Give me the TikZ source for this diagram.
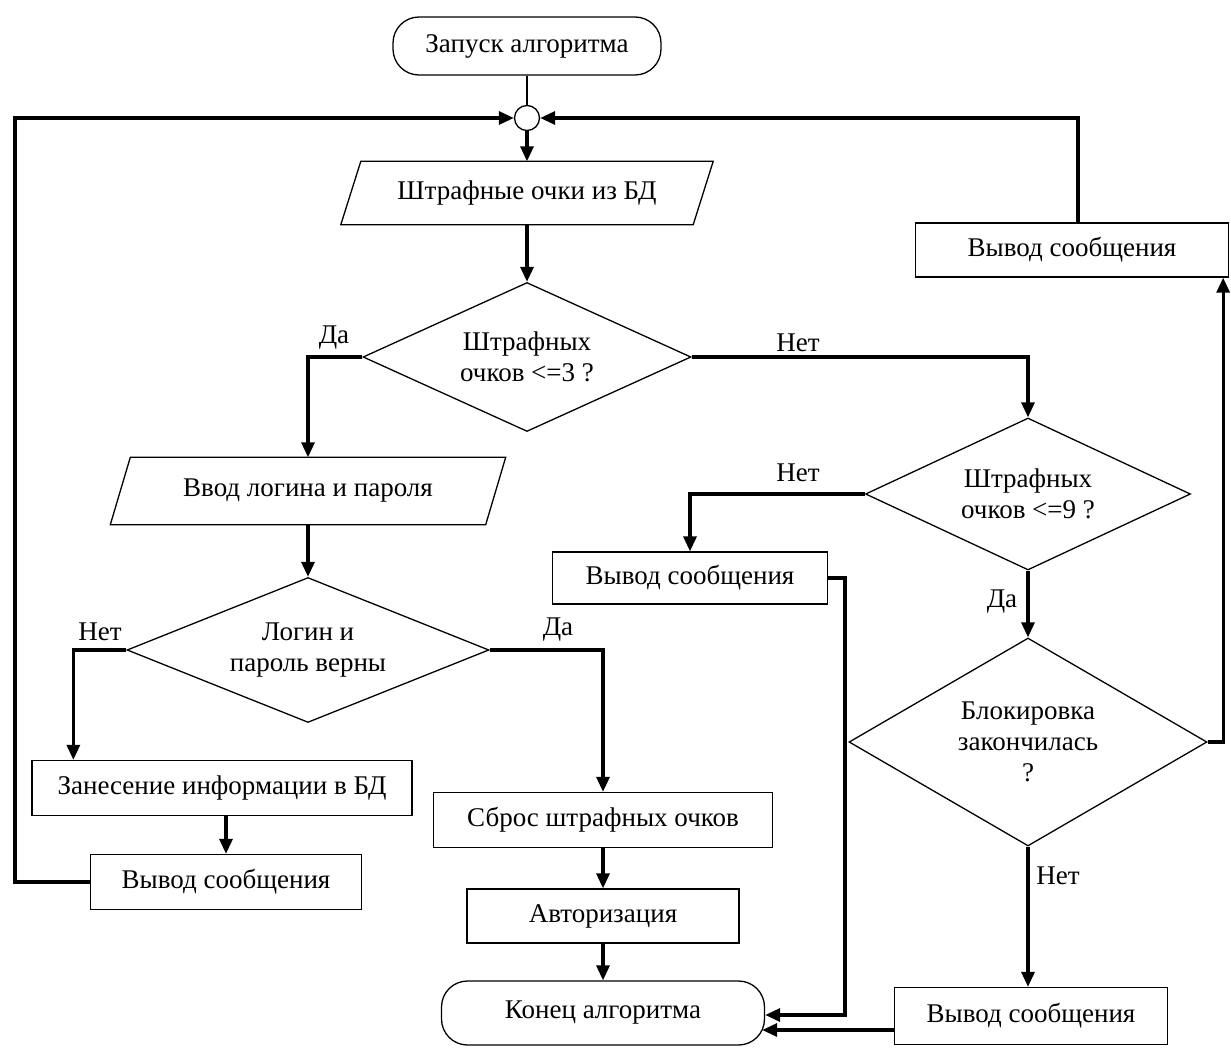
\documentclass[tikz,border=0pt]{standalone}
\usepackage{fontspec}
\setmainfont{Liberation Serif}
\usetikzlibrary{shapes.geometric,arrows.meta,calc}
\begin{document}
\begin{tikzpicture}[x=1pt,y=-1pt,
  font=\fontsize{27}{31}\selectfont,
  outl/.style={draw, line width=1.3pt},
  boxn/.style={outl, rectangle, inner sep=0pt, align=center},
  term/.style={outl, rectangle, rounded corners=26pt, inner sep=0pt},
  dec/.style={outl, diamond, inner sep=0pt, shape aspect=2, align=center},
  io/.style={rectangle, inner sep=0pt, align=center},
  conn/.style={line width=3.2pt, -{Triangle[length=15pt,width=13pt]}},
  thinl/.style={line width=1.3pt},
  lbl/.style={inner sep=0pt}]
\fill[white] (0,0) rectangle (1231,1048);
\useasboundingbox (0,0) rectangle (1231,1048);

% nodes
\node[term, minimum width=268pt, minimum height=58pt] (start) at (527,46) {Запуск алгоритма};
\node[outl, circle, minimum size=25pt, inner sep=0pt] (circ) at (527,118) {};
\node[io, minimum width=372pt, minimum height=63pt] (p1) at (527,193) {Штрафные очки из БД};
\draw[outl] ($(p1.north west)+(20,0)$) -- (p1.north east) -- ($(p1.south east)+(-20,0)$) -- (p1.south west) -- cycle;
\node[dec, minimum width=328pt, minimum height=149pt] (d1) at (527,357) {Штрафных\\очков <=3 ?};
\node[io, minimum width=395pt, minimum height=67pt] (p2) at (308,491) {Ввод логина и пароля};
\draw[outl] ($(p2.north west)+(20,0)$) -- (p2.north east) -- ($(p2.south east)+(-20,0)$) -- (p2.south west) -- cycle;
\node[dec, minimum width=362pt, minimum height=145pt] (d3) at (308,650) {Логин и\\пароль верны};
\node[boxn, minimum width=380pt, minimum height=55pt] (zan) at (222,788) {Занесение информации в БД};
\node[boxn, minimum width=271pt, minimum height=55pt] (vl) at (226,882) {Вывод сообщения};
\node[boxn, minimum width=339pt, minimum height=55pt] (srb) at (603,820) {Сброс штрафных очков};
\node[boxn, minimum width=272pt, minimum height=54pt] (avt) at (603,916) {Авторизация};
\node[term, minimum width=323pt, minimum height=64pt] (endt) at (603,1013) {Конец алгоритма};
\node[dec, minimum width=325pt, minimum height=152pt] (d2) at (1028,494) {Штрафных\\очков <=9 ?};
\node[boxn, minimum width=275pt, minimum height=52pt] (vm) at (690,578) {Вывод сообщения};
\node[dec, minimum width=358pt, minimum height=208pt] (d4) at (1028,742) {Блокировка\\закончилась\\?};
\node[boxn, minimum width=313pt, minimum height=54pt] (trb) at (1072,250) {Вывод сообщения};
\node[boxn, minimum width=273pt, minimum height=57pt] (brb) at (1031,1016) {Вывод сообщения};

\coordinate (L) at (15,0);
\coordinate (R) at (845,0);

% connectors
\draw[thinl] (start.south) -- (circ.north);
\draw[conn] (circ.south) -- (p1.north);
\draw[conn] (p1.south) -- (d1.north);
\draw[conn] (d1.west) -| (p2.north);
\draw[conn] (d1.east) -| (d2.north);
\draw[conn] (p2.south) -- (d3.north);
\draw[conn] (d3.west) -| ($(zan.north west)+(42,0)$);
\draw[conn] (d3.east) -| (srb.north);
\draw[conn] (zan.south -| vl.north) -- (vl.north);
\draw[conn] (vl.west) -- (vl.west -| L) |- (circ.west);
\draw[conn] (srb.south) -- (avt.north);
\draw[conn] (avt.south) -- (endt.north);
\draw[conn] (d2.west) -| (vm.north);
\draw[conn] (vm.east) -- (vm.east -| R) |- ($(endt.east)+(0,2)$);
\draw[conn] (d2.south) -- (d4.north);
\draw[conn] (d4.east) -| ($(trb.south east)+(-6,0)$);
\draw[conn] ($(trb.north)+(6,0)$) |- (circ.east);
\draw[conn] (d4.south) -- (d4.south |- brb.north);
\draw[conn] ($(brb.west)+(0,14)$) -- ($(endt.east)+(-3,17)$);

% labels
\node[lbl] at (334,338) {Да};
\node[lbl] at (798,343) {Нет};
\node[lbl] at (798,473) {Нет};
\node[lbl] at (100,632) {Нет};
\node[lbl] at (558,630) {Да};
\node[lbl] at (1002,602) {Да};
\node[lbl] at (1058,876) {Нет};
\end{tikzpicture}
\end{document}
